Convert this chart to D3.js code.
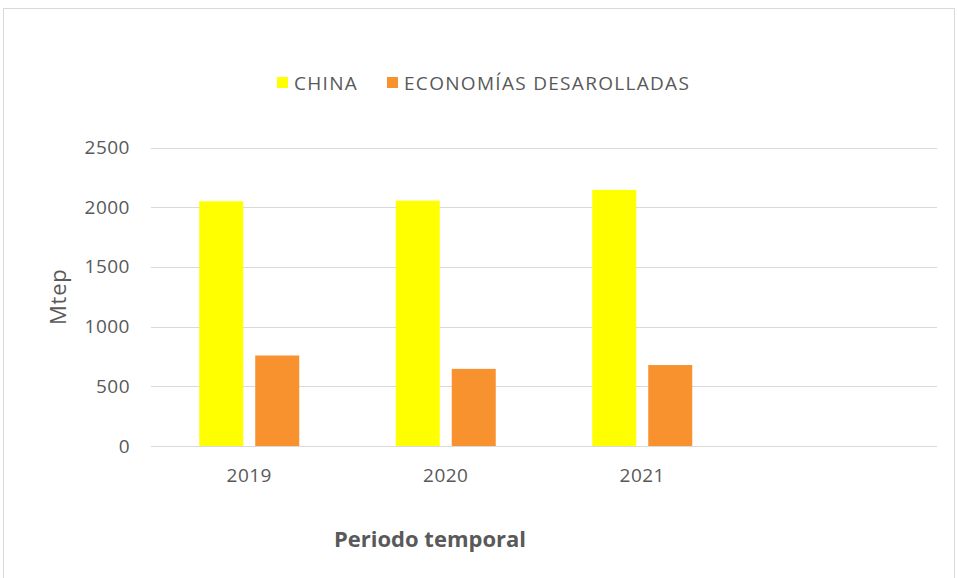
<!DOCTYPE html>
<html>
<head>
<meta charset="utf-8">
<script src="https://cdn.jsdelivr.net/npm/d3@7"></script>
<style>
  html, body { margin: 0; padding: 0; background: #fff; }
  svg { display: block; }
  text { font-family: "Open Sans", Lato, sans-serif; fill: #595959; }
</style>
</head>
<body>
<svg id="chart" width="957" height="578"></svg>
<script>
// Categories (the last slot is an empty period)
const periods = ["2019", "2020", "2021", ""];
const seriesNames = ["CHINA", "ECONOMÍAS DESAROLLADAS"];
const chinaValues = [2050, 2055, 2145];
const developedValues = [758, 646, 678];
const yTicks = [0, 500, 1000, 1500, 2000, 2500];
const colors = ["#FFFF00", "#F7922F"];

const FONT = "'Open Sans', Lato, sans-serif";
const svg = d3.select("#chart");

// Outer frame
svg.append("rect")
  .attr("x", 3.5).attr("y", 8.5)
  .attr("width", 951).attr("height", 600)
  .attr("fill", "none").attr("stroke", "#d9d9d9");

const plot = { left: 151, right: 937, top: 147.5, bottom: 446 };

const x0 = d3.scaleBand().domain(periods).range([plot.left, plot.right]).padding(0);
const groupW = 100;
const x1 = d3.scaleBand().domain(seriesNames)
  .range([(x0.bandwidth() - groupW) / 2, (x0.bandwidth() + groupW) / 2])
  .paddingInner(0.214).paddingOuter(0);
const y = d3.scaleLinear().domain([0, 2500]).range([plot.bottom, plot.top]);

// Gridlines
svg.append("g")
  .selectAll("line").data(yTicks).join("line")
  .attr("x1", plot.left).attr("x2", plot.right)
  .attr("y1", d => Math.round(y(d)) + 0.5).attr("y2", d => Math.round(y(d)) + 0.5)
  .attr("stroke", "#d9d9d9").attr("stroke-width", 1);

// Y axis labels
const yAxis = d3.axisLeft(y).tickValues(yTicks).tickFormat(d3.format("d")).tickSize(0).tickPadding(0);
const yg = svg.append("g").attr("transform", `translate(${plot.left - 21},0)`).call(yAxis);
yg.select(".domain").remove();
yg.selectAll("text").style("font-size", "19px").attr("fill", "#595959")
  .style("font-family", FONT).style("letter-spacing", "0.5px");

// X axis labels
const xAxis = d3.axisBottom(x0).tickSize(0).tickPadding(0);
const xg = svg.append("g").attr("transform", `translate(0,${plot.bottom + 22})`).call(xAxis);
xg.select(".domain").remove();
xg.selectAll("text").style("font-size", "19px").attr("fill", "#595959")
  .style("font-family", FONT).style("letter-spacing", "0.5px");

// Bars
const rows = periods.slice(0, 3).map((p, i) => ({ period: p, values: [chinaValues[i], developedValues[i]] }));
svg.append("g")
  .selectAll("g").data(rows).join("g")
  .attr("transform", d => `translate(${x0(d.period)},0)`)
  .selectAll("rect").data(d => d.values.map((v, j) => ({ name: seriesNames[j], value: v, c: colors[j] })))
  .join("rect")
  .attr("x", d => x1(d.name))
  .attr("width", x1.bandwidth())
  .attr("y", d => y(d.value))
  .attr("height", d => y(0) - y(d.value))
  .attr("fill", d => d.c);

// Axis titles
svg.append("text")
  .attr("transform", `translate(66,${(plot.top + plot.bottom) / 2}) rotate(-90)`)
  .attr("text-anchor", "middle")
  .style("font-size", "22px").style("letter-spacing", "0.8px")
  .text("Mtep");

svg.append("text")
  .attr("x", 430).attr("y", 547)
  .attr("text-anchor", "middle")
  .style("font-size", "22px").style("font-weight", "bold")
  .text("Periodo temporal");

// Legend
const legendPos = [277, 387];
const lg = svg.append("g");
seriesNames.forEach((n, i) => {
  lg.append("rect").attr("x", legendPos[i]).attr("y", 77).attr("width", 11).attr("height", 11).attr("fill", colors[i]);
  lg.append("text").attr("x", legendPos[i] + 17).attr("y", 90)
    .style("font-size", "19px").style("letter-spacing", "1.3px").text(n);
});
</script>
</body>
</html>
